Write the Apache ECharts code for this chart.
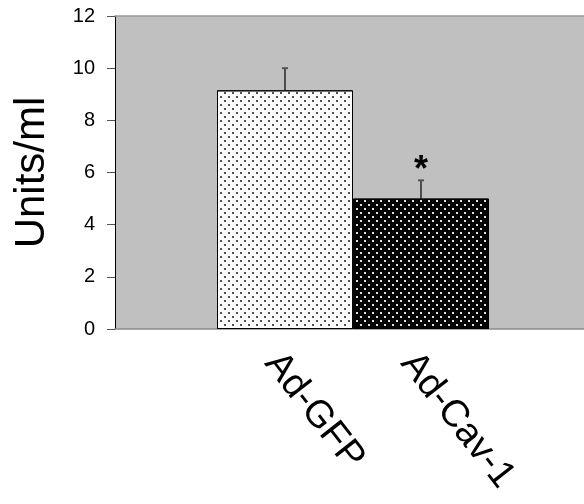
<!DOCTYPE html>
<html>
<head>
<meta charset="utf-8">
<script src="https://cdn.jsdelivr.net/npm/echarts@6/dist/echarts.min.js"></script>
<style>
  html, body { margin: 0; padding: 0; background: #fff; }
  #chart { width: 584px; height: 504px; }
</style>
</head>
<body>
<div id="chart"></div>
<script>
var groups = ['Ad-GFP', 'Ad-Cav-1'];
var means = [9.15, 5.0];
var errors = [0.85, 0.7];
var marks = ['', '*'];
var yTicks = [0, 2, 4, 6, 8, 10, 12];

var fontName = 'Liberation Sans, Arial, sans-serif';

// dotted fills, rows offset like a halftone screen
var lightDots = {
    symbol: 'rect',
    symbolSize: 1,
    dashArrayX: [[2, 6], [0, 4, 2, 2]],
    dashArrayY: [2, 2],
    color: '#505050'
};
var darkDots = {
    symbol: 'rect',
    symbolSize: 1,
    dashArrayX: [[2, 6], [0, 4, 2, 2]],
    dashArrayY: [2, 2],
    color: '#e0e0e0'
};

var barData = means.map(function (v, i) {
    return {
        value: v,
        itemStyle: {
            color: i === 0 ? '#ffffff' : '#000000',
            decal: i === 0 ? lightDots : darkDots
        }
    };
});

var errData = means.map(function (v, i) {
    return [i, v, v + errors[i], marks[i]];
});

function drawError(params, api) {
    var base = api.coord([api.value(0), api.value(1)]);
    var top = api.coord([api.value(0), api.value(2)]);
    var children = [
        {
            type: 'line',
            shape: { x1: top[0], y1: base[1], x2: top[0], y2: top[1] },
            style: { stroke: '#000', lineWidth: 1.2 }
        },
        {
            type: 'line',
            shape: { x1: top[0] - 3, y1: top[1], x2: top[0] + 3, y2: top[1] },
            style: { stroke: '#555', lineWidth: 2 }
        }
    ];
    var star = marks[params.dataIndex];
    if (star) {
        children.push({
            type: 'text',
            style: {
                text: star,
                x: top[0],
                y: top[1] + 9,
                align: 'center',
                verticalAlign: 'bottom',
                fill: '#000',
                font: 'bold 36px ' + fontName
            }
        });
    }
    return { type: 'group', children: children };
}

var chart = echarts.init(document.getElementById('chart'));

var option = {
    animation: false,
    backgroundColor: '#ffffff',
    textStyle: { fontFamily: fontName },
    grid: [
        { left: 115, right: -10, top: 16, bottom: 175, show: true, backgroundColor: '#c0c0c0', borderWidth: 0 },
        { left: 217, right: 95, top: 16, bottom: 175 },
        { left: 204, right: 108, top: 16, bottom: 175 }
    ],
    xAxis: [
        {
            gridIndex: 0, type: 'value', min: 0, max: 1, position: 'bottom',
            axisLine: { show: true, lineStyle: { color: '#8c8c8c', width: 1.5 } },
            axisTick: { show: false }, axisLabel: { show: false }, splitLine: { show: false }
        },
        {
            gridIndex: 1, type: 'category', data: groups,
            axisLine: { show: false }, axisTick: { show: false }, axisLabel: { show: false }
        },
        {
            gridIndex: 2, type: 'category', data: groups,
            axisLine: { show: false }, axisTick: { show: false },
            axisLabel: { rotate: -52, margin: 28, fontSize: 38, color: '#000', fontFamily: fontName }
        },
        {
            gridIndex: 0, type: 'value', min: 0, max: 1, position: 'top',
            axisLine: { show: true, lineStyle: { color: '#9a9a9a', width: 1.5 } },
            axisTick: { show: false }, axisLabel: { show: false }, splitLine: { show: false }
        }
    ],
    yAxis: [
        {
            gridIndex: 0, type: 'value', min: yTicks[0], max: yTicks[yTicks.length - 1], interval: 2,
            name: 'Units/ml', nameLocation: 'middle', nameGap: 62, nameRotate: 90,
            nameTextStyle: { fontSize: 42, color: '#000', fontFamily: fontName },
            axisLine: { show: true, lineStyle: { color: '#000', width: 1 } },
            axisTick: { show: true, length: 8, lineStyle: { color: '#555' } },
            axisLabel: { fontSize: 20, color: '#000', margin: 20, fontFamily: fontName },
            splitLine: { show: false }
        },
        { gridIndex: 1, type: 'value', min: 0, max: 12, show: false },
        { gridIndex: 2, type: 'value', min: 0, max: 12, show: false }
    ],
    series: [
        {
            type: 'bar',
            xAxisIndex: 1,
            yAxisIndex: 1,
            barWidth: '100%',
            barCategoryGap: 0,
            itemStyle: { borderColor: '#000', borderWidth: 1 },
            data: barData
        },
        {
            type: 'custom',
            xAxisIndex: 1,
            yAxisIndex: 1,
            renderItem: drawError,
            data: errData,
            z: 5
        }
    ]
};

chart.setOption(option);
</script>
</body>
</html>
